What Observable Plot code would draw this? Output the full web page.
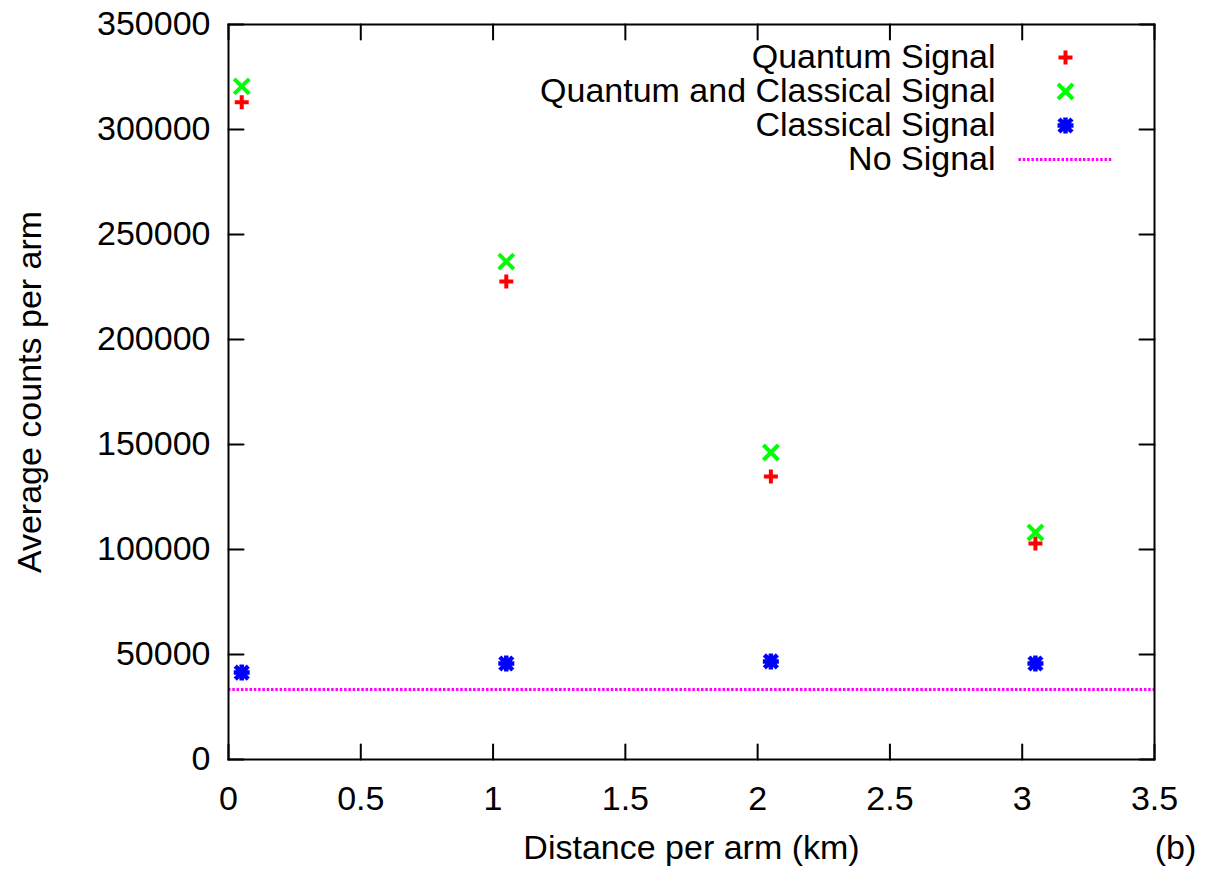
<!DOCTYPE html>
<html>
<head>
<meta charset="utf-8">
<script src="https://cdn.jsdelivr.net/npm/d3@7"></script>
<script src="https://cdn.jsdelivr.net/npm/@observablehq/plot@0.6"></script>
<style>
  html, body { margin: 0; padding: 0; background: #fff; }
  #chart svg { display: block; }
</style>
</head>
<body>
<div id="chart"></div>
<script>
// ---- data ----
const distances = [0.05, 1.05, 2.05, 3.05];
const quantumSignal = [313000, 227600, 134800, 102900];
const quantumClassicalSignal = [320500, 237100, 146200, 108100];
const classicalSignal = [41400, 45700, 46700, 45700];
const noSignal = 33300;
const xTicks = [0, 0.5, 1, 1.5, 2, 2.5, 3, 3.5];
const yTicks = [0, 50000, 100000, 150000, 200000, 250000, 300000, 350000];
const legendLabels = ["Quantum Signal", "Quantum and Classical Signal", "Classical Signal", "No Signal"];
const xLabel = "Distance per arm (km)";
const yLabel = "Average counts per arm";
const panelLabel = "(b)";

const toRows = vals => distances.map((d, i) => ({x: d, y: vals[i]}));

// ---- symbols ----
const plusSym = {draw(c) { c.moveTo(-7, 0); c.lineTo(7, 0); c.moveTo(0, -7); c.lineTo(0, 7); }};
const timesSym = {draw(c) { c.moveTo(-7.5, -7.5); c.lineTo(7.5, 7.5); c.moveTo(-7.5, 7.5); c.lineTo(7.5, -7.5); }};
const starSym = {draw(c) {
  c.moveTo(-8, 0); c.lineTo(8, 0); c.moveTo(0, -8); c.lineTo(0, 8);
  c.moveTo(-6.5, -6.5); c.lineTo(6.5, 6.5); c.moveTo(-6.5, 6.5); c.lineTo(6.5, -6.5);
}};
const lineSym = {draw(c) { c.moveTo(-47, 0); c.lineTo(47, 0); }};

const tickShape = (dx, dy) => ({draw(c, l) { c.moveTo(0, 0); c.lineTo(dx * l, dy * l); }});
const tickLen = 15;
const tickStyle = {stroke: "black", strokeWidth: 2, anchor: "start", length: tickLen};

const red = "#ff0000", green = "#00ff00", blue = "#0000ff", magenta = "#ff00ff";

const legendSyms = [
  {symbol: plusSym, stroke: red, strokeWidth: 4},
  {symbol: timesSym, stroke: green, strokeWidth: 4},
  {symbol: starSym, stroke: blue, strokeWidth: 4.5},
  {symbol: lineSym, stroke: magenta, strokeWidth: 3, strokeDasharray: "2.5,1.8"}
];

const chart = Plot.plot({
  width: 1207,
  height: 871,
  marginLeft: 228,
  marginRight: 53,
  marginTop: 24,
  marginBottom: 112,
  style: {fontFamily: "'Liberation Sans', Arial, Helvetica, sans-serif", fontSize: "34px", background: "#fff", color: "black"},
  x: {domain: [0, 3.5], label: null},
  y: {domain: [0, 350000], label: null},
  marks: [
    // tick labels
    Plot.axisX(xTicks, {tickSize: 0, tickPadding: 26, fontSize: 34, tickFormat: d => String(d), label: null}),
    Plot.axisY(yTicks, {tickSize: 0, tickPadding: 18, fontSize: 34, tickFormat: d => String(d), label: null}),
    // inward ticks on all four sides
    Plot.vector(xTicks, {x: d => d, frameAnchor: "bottom", shape: tickShape(0, -1), ...tickStyle}),
    Plot.vector(xTicks, {x: d => d, frameAnchor: "top", shape: tickShape(0, 1), ...tickStyle}),
    Plot.vector(yTicks, {y: d => d, frameAnchor: "left", shape: tickShape(1, 0), ...tickStyle}),
    Plot.vector(yTicks, {y: d => d, frameAnchor: "right", shape: tickShape(-1, 0), ...tickStyle}),
    // no-signal line
    Plot.ruleY([noSignal], {stroke: magenta, strokeWidth: 3, strokeDasharray: "2.5,1.8"}),
    // data points
    Plot.dot(toRows(quantumSignal), {x: "x", y: "y", symbol: plusSym, stroke: red, strokeWidth: 4, r: 7}),
    Plot.dot(toRows(quantumClassicalSignal), {x: "x", y: "y", symbol: timesSym, stroke: green, strokeWidth: 4, r: 7}),
    Plot.dot(toRows(classicalSignal), {x: "x", y: "y", symbol: starSym, stroke: blue, strokeWidth: 4.5, r: 7}),
    // legend
    ...legendLabels.map((lab, i) => Plot.text([lab], {text: d => d, frameAnchor: "top-right", dx: -159, dy: 33 + 34 * i, textAnchor: "end", lineAnchor: "middle", fontSize: 34, fill: "black"})),
    ...legendSyms.map((s, i) => Plot.dot([0], {frameAnchor: "top-right", dx: -89, dy: 33 + 34 * i, r: 7, ...s})),
    // axis titles
    Plot.text([xLabel], {text: d => d, frameAnchor: "bottom", dy: 89, textAnchor: "middle", lineAnchor: "middle", fontSize: 34, fill: "black"}),
    Plot.text([yLabel], {text: d => d, frameAnchor: "left", dx: -198, rotate: -90, textAnchor: "middle", lineAnchor: "middle", fontSize: 34, fill: "black"}),
    Plot.text([panelLabel], {text: d => d, frameAnchor: "bottom-right", dx: 21, dy: 89, textAnchor: "middle", lineAnchor: "middle", fontSize: 34, fill: "black"}),
    Plot.frame({stroke: "black", strokeWidth: 2})
  ]
});
document.getElementById("chart").appendChild(chart);
</script>
</body>
</html>
